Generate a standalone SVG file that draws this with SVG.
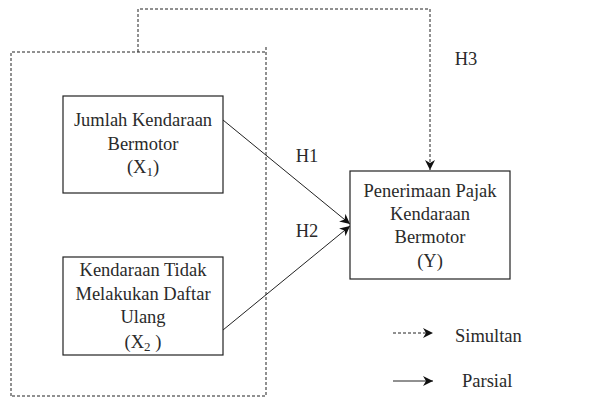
<svg xmlns="http://www.w3.org/2000/svg" width="596" height="398" viewBox="0 0 596 398">
<style>
text{font-family:"Liberation Serif","Times New Roman",serif;font-size:18.5px;fill:#2a2a2a;text-anchor:middle}
.box{fill:#fff;stroke:#222;stroke-width:1.2}
.dash{fill:none;stroke:#222;stroke-width:1;stroke-dasharray:3,2}
.solid{fill:none;stroke:#222;stroke-width:1}
.lg{text-anchor:start}
</style>
<defs>
<marker id="ah" viewBox="0 0 10 10" refX="10" refY="5" markerWidth="10" markerHeight="10" markerUnits="userSpaceOnUse" orient="auto">
<path d="M0,0 L10,5 L0,10 L3,5 z" fill="#111"/>
</marker>
</defs>
<rect x="0" y="0" width="596" height="398" fill="#fff"/>
<g id="connectors">
<path class="dash" d="M11,396 V52 H266 M266,47 V396 H11"/>
<path class="dash" d="M138,52 V9 H430 V170" marker-end="url(#ah)"/>
<path class="solid" d="M223,120 L350,224" marker-end="url(#ah)"/>
<path class="solid" d="M223,330 L350,226" marker-end="url(#ah)"/>
<text x="307" y="162">H1</text>
<text x="307" y="237">H2</text>
<text x="466" y="65">H3</text>
</g>
<g id="x1">
<rect class="box" x="63" y="96" width="160" height="97"/>
<text x="143" y="126">Jumlah Kendaraan</text>
<text x="143" y="150">Bermotor</text>
<text x="143" y="173">(X<tspan font-size="13" dy="3">1</tspan><tspan dy="-3">)</tspan></text>
</g>
<g id="x2">
<rect class="box" x="63" y="257" width="160" height="98"/>
<text x="143" y="276">Kendaraan Tidak</text>
<text x="143" y="300">Melakukan Daftar</text>
<text x="143" y="323">Ulang</text>
<text x="143" y="348">(X<tspan font-size="13" dy="3">2</tspan><tspan dy="-3"> )</tspan></text>
</g>
<g id="y">
<rect class="box" x="350" y="171" width="160" height="108"/>
<text x="430" y="197">Penerimaan Pajak</text>
<text x="430" y="220">Kendaraan</text>
<text x="430" y="243">Bermotor</text>
<text x="430" y="267">(Y)</text>
</g>
<g id="legend">
<path class="dash" d="M393,333 H433" marker-end="url(#ah)"/>
<path class="solid" d="M393,381 H433" marker-end="url(#ah)"/>
<text class="lg" x="455" y="342">Simultan</text>
<text class="lg" x="462" y="387">Parsial</text>
</g>
</svg>
